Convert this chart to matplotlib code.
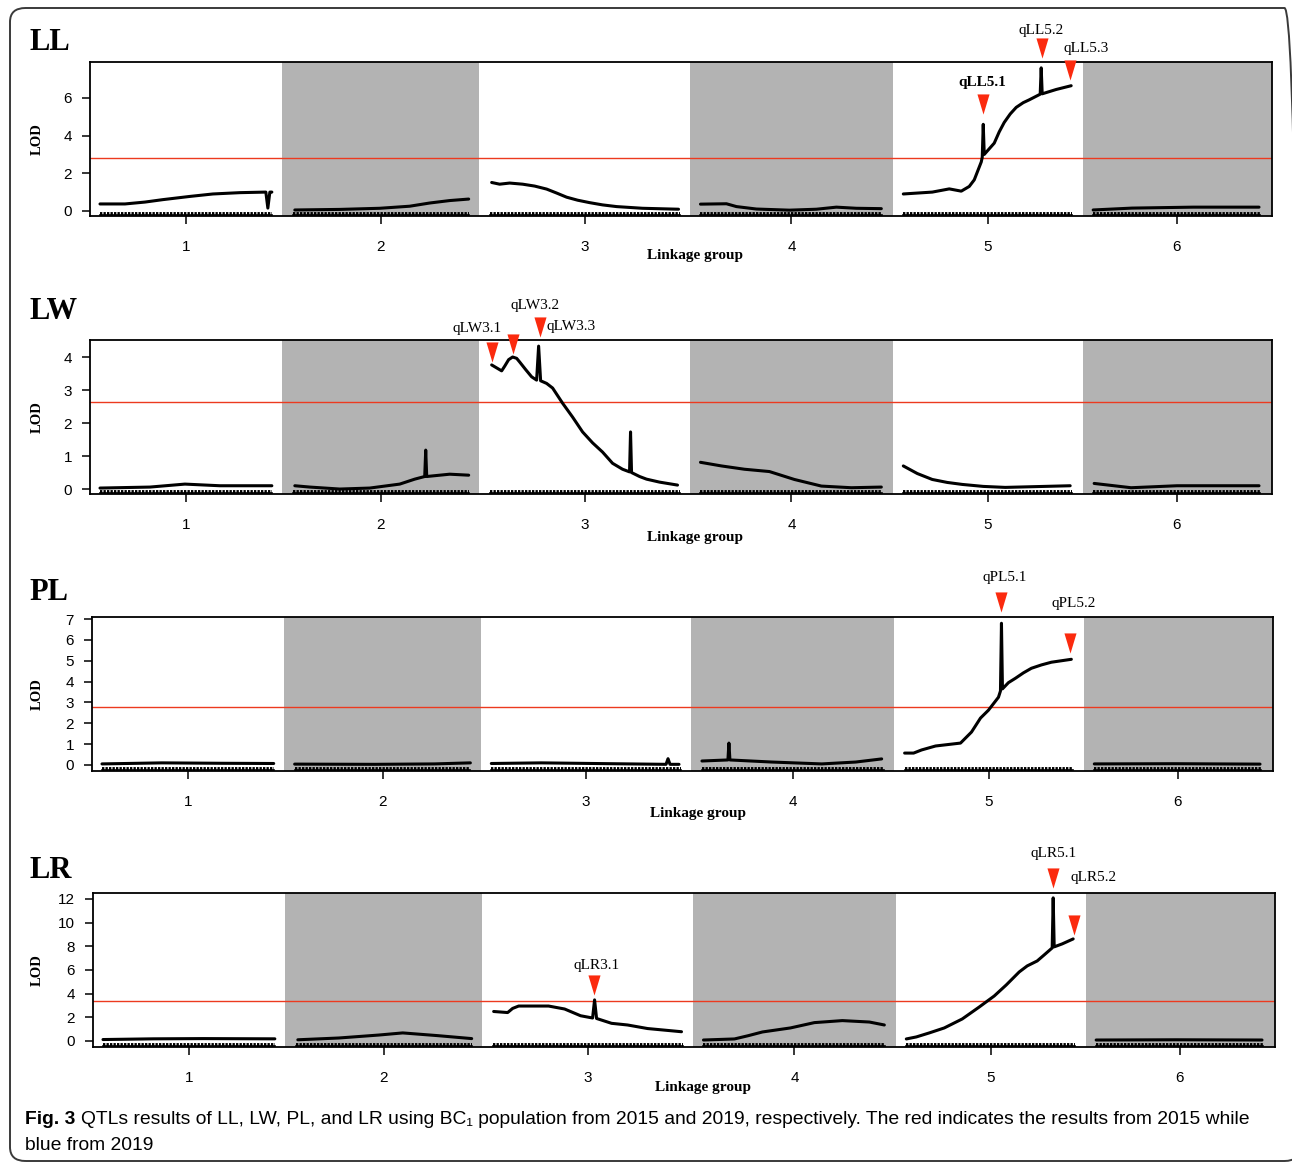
import numpy as np
import matplotlib.pyplot as plt
from matplotlib.patches import FancyBboxPatch

W, H = 1292, 1164

# linkage groups: length (cM) and gap between them
chr_len = [172, 176, 190, 182, 169, 167]
gap = 21
chr_names = ['1', '2', '3', '4', '5', '6']

# LOD profiles, one list per linkage group (position in cM, LOD)
ll_pos = [[0, 25, 45, 63, 90, 113, 140, 166, 168, 170, 172],
          [2, 47, 87, 117, 137, 157, 176],
          [2, 10, 20, 33, 45, 57, 67, 77, 88, 100, 113, 127, 153, 189],
          [0, 26, 36, 56, 89, 116, 136, 156, 181],
          [0, 29, 46, 58, 66, 71, 78, 79, 80, 81, 86, 91, 96, 101, 107, 113, 120, 126, 137, 138, 139, 153, 168],
          [0, 39, 100, 166]]
ll_lod = [[0.37, 0.37, 0.47, 0.6, 0.77, 0.9, 0.97, 1.0, 0.15, 1.0, 1.0],
          [0.05, 0.08, 0.14, 0.25, 0.42, 0.55, 0.63],
          [1.51, 1.42, 1.48, 1.42, 1.32, 1.16, 0.95, 0.73, 0.57, 0.44, 0.32, 0.23, 0.14, 0.09],
          [0.36, 0.38, 0.23, 0.1, 0.04, 0.09, 0.2, 0.14, 0.12],
          [0.9, 1.0, 1.17, 1.05, 1.3, 1.65, 2.6, 2.85, 4.6, 3.0, 3.3, 3.6, 4.2, 4.7, 5.15, 5.5, 5.75, 5.9, 6.2, 7.6, 6.22, 6.45, 6.65],
          [0.05, 0.15, 0.2, 0.2]]

lw_pos = [[0, 50, 85, 120, 172],
          [2, 17, 47, 77, 107, 122, 132, 133, 134, 157, 176],
          [2, 12, 15, 19, 23, 27, 30, 36, 42, 47, 49, 51, 57, 63, 73, 83, 93, 103, 113, 123, 133, 140, 141, 142, 150, 157, 170, 188],
          [0, 21, 44, 69, 94, 121, 151, 181],
          [0, 14, 29, 44, 59, 80, 102, 167],
          [1, 38, 84, 166]]
lw_lod = [[0.03, 0.06, 0.15, 0.1, 0.1],
          [0.1, 0.06, 0.0, 0.03, 0.15, 0.3, 0.38, 1.18, 0.38, 0.45, 0.42],
          [3.76, 3.58, 3.72, 3.92, 4.0, 3.96, 3.85, 3.62, 3.4, 3.3, 4.33, 3.28, 3.2, 3.06, 2.6, 2.18, 1.73, 1.4, 1.12, 0.78, 0.6, 0.52, 1.73, 0.5, 0.38, 0.3, 0.21, 0.12],
          [0.81, 0.7, 0.6, 0.53, 0.29, 0.09, 0.04, 0.06],
          [0.7, 0.47, 0.29, 0.2, 0.14, 0.08, 0.05, 0.1],
          [0.17, 0.04, 0.1, 0.1]]

pl_pos = [[0, 60, 120, 172],
          [0, 80, 140, 176],
          [0, 50, 120, 175, 177, 179, 188],
          [0, 26, 27, 28, 70, 120, 154, 180],
          [0, 9, 17, 31, 56, 67, 76, 84, 94, 96, 97, 98, 104, 111, 119, 127, 137, 147, 167],
          [0, 80, 166]]
pl_lod = [[0.05, 0.1, 0.08, 0.07],
          [0.04, 0.03, 0.05, 0.1],
          [0.07, 0.1, 0.06, 0.03, 0.3, 0.03, 0.03],
          [0.19, 0.24, 1.05, 0.24, 0.14, 0.05, 0.14, 0.29],
          [0.57, 0.57, 0.72, 0.91, 1.05, 1.58, 2.25, 2.63, 3.25, 3.55, 6.8, 3.65, 3.95, 4.16, 4.42, 4.64, 4.8, 4.93, 5.07],
          [0.05, 0.06, 0.04]]

lr_pos = [[0, 50, 100, 172],
          [2, 43, 83, 107, 142, 176],
          [1, 15, 20, 26, 56, 72, 88, 100, 102, 104, 119, 135, 155, 189],
          [0, 31, 45, 59, 87, 111, 139, 166, 181],
          [0, 10, 23, 38, 56, 73, 88, 100, 113, 121, 131, 138, 146, 147, 148, 156, 167],
          [0, 80, 166]]
lr_lod = [[0.12, 0.18, 0.2, 0.18],
          [0.1, 0.25, 0.5, 0.68, 0.45, 0.2],
          [2.49, 2.4, 2.75, 2.95, 2.95, 2.7, 2.13, 1.94, 3.47, 1.9, 1.49, 1.35, 1.05, 0.78],
          [0.08, 0.17, 0.45, 0.76, 1.1, 1.55, 1.72, 1.6, 1.35],
          [0.17, 0.34, 0.68, 1.1, 1.86, 2.87, 3.8, 4.73, 5.83, 6.34, 6.76, 7.27, 7.86, 12.09, 7.95, 8.2, 8.62],
          [0.08, 0.1, 0.08]]

# LOD significance thresholds
thresholds = {'LL': 2.83, 'LW': 2.64, 'PL': 2.78, 'LR': 3.38}

# QTLs: name, linkage group, position (cM), marker height (LOD), label offset (px), bold
ll_qtl = [('qLL5.1', 5, 80, 5.7, (-1, 21), True),
          ('qLL5.2', 5, 139, 8.64, (-1, 18), False),
          ('qLL5.3', 5, 167, 7.47, (16, 22), False)]
lw_qtl = [('qLW3.1', 3, 2, 4.15, (-15, 24), False),
          ('qLW3.2', 3, 23, 4.39, (22, 39), False),
          ('qLW3.3', 3, 50, 4.91, (31, 0), False)]
pl_qtl = [('qPL5.1', 5, 97, 7.8, (3, 25), False),
          ('qPL5.2', 5, 166, 5.84, (3, 40), False)]
lr_qtl = [('qLR3.1', 3, 101, 4.73, (3, 19), False),
          ('qLR5.1', 5, 147, 13.78, (0, 24), False),
          ('qLR5.2', 5, 168, 9.8, (19, 47), False)]

offsets = np.concatenate([[0], np.cumsum(np.array(chr_len[:-1]) + gap)])
x_end = offsets[-1] + chr_len[-1]

serif = ['Liberation Serif', 'DejaVu Serif']
sans = ['Liberation Sans', 'DejaVu Sans']

fig = plt.figure(figsize=(W / 100, H / 100), dpi=100)

# frame around the figure
fig.patches.append(FancyBboxPatch((10 / W, 3 / H), 1290 / W, 1153 / H,
                                  boxstyle='round,pad=0,rounding_size=0.012',
                                  transform=fig.transFigure, fill=False,
                                  ec='#3a3a3a', lw=1.4))

panels = [
    # title, pos, lod, qtls, box (left, right, top, bottom px), ylim, yticks, title y, xlabel xy
    ('LL', ll_pos, ll_lod, ll_qtl, (90, 1272, 62, 216), (-0.27, 7.91), [0, 2, 4, 6], 42, (695, 255)),
    ('LW', lw_pos, lw_lod, lw_qtl, (90, 1272, 340, 494), (-0.15, 4.515), [0, 1, 2, 3, 4], 312, (695, 538)),
    ('PL', pl_pos, pl_lod, pl_qtl, (92, 1273, 617, 771), (-0.29, 7.1), list(range(8)), 592, (698, 813)),
    ('LR', lr_pos, lr_lod, lr_qtl, (93, 1275, 893, 1047), (-0.51, 12.5), list(range(0, 13, 2)), 870, (703, 1087)),
]

for name, pos, lod, qtls, (l, r, t, b), ylim, yticks, ty, xl in panels:
    ax = fig.add_axes([l / W, 1 - b / H, (r - l) / W, (b - t) / H])
    ax.set_xlim(-10, x_end + 12)
    ax.set_ylim(*ylim)

    # alternating grey bands for even linkage groups
    for i in range(1, 6, 2):
        lo = offsets[i] - gap / 2
        hi = offsets[i] + chr_len[i] + gap / 2 if i < 5 else x_end + 12
        ax.axvspan(lo, hi, color='#b3b3b3', lw=0, zorder=0)

    ax.axhline(thresholds[name], color='#ec3a1f', lw=1.0, zorder=2)

    xt = ax.get_xaxis_transform()
    for i in range(6):
        xs = offsets[i] + np.array(pos[i])
        ax.plot(xs, lod[i], color='black', lw=2.2, solid_joinstyle='round',
                solid_capstyle='round', zorder=3)
        # marker rug
        ax.plot([offsets[i], offsets[i] + chr_len[i]], [0.014, 0.014], transform=xt,
                color='black', lw=2.8, dashes=(0.6, 0.3), zorder=3)
        ax.plot([offsets[i], offsets[i] + chr_len[i]], [0.007, 0.007], transform=xt,
                color='black', lw=1.2, zorder=3)

    for qname, c, p, h, (dx, dy), bold in qtls:
        x = offsets[c - 1] + p
        ax.plot(x, h, marker=[(-0.3, 0.5), (0.3, 0.5), (0, -0.5)], ms=14.5,
                color='#fb2a0e', mec='none', clip_on=False, zorder=5)
        ax.annotate(qname, (x, h), xytext=(dx, dy), textcoords='offset pixels',
                    ha='center', va='center', fontsize=11, family=serif,
                    fontweight='bold' if bold else 'normal', annotation_clip=False)

    ax.set_xticks(offsets + np.array(chr_len) / 2)
    ax.set_xticklabels(chr_names)
    ax.set_yticks(yticks)
    ax.tick_params(direction='out', length=6, width=1.1, labelsize=11, colors='black')
    ax.tick_params(axis='x', pad=11)
    ax.tick_params(axis='y', pad=7)
    for lab in ax.get_xticklabels() + ax.get_yticklabels():
        lab.set_family(sans)
    for s in ax.spines.values():
        s.set_linewidth(1.3)

    fig.text(29 / W, 1 - ty / H, name, fontsize=22, fontweight='bold', family=serif,
             ha='left', va='center')
    fig.text(37 / W, 1 - (t + b) / 2 / H, 'LOD', fontsize=10.5, fontweight='bold',
             family=serif, rotation=90, ha='center', va='center')
    fig.text(xl[0] / W, 1 - xl[1] / H, 'Linkage group', fontsize=11, fontweight='bold',
             family=serif, ha='center', va='center')

# caption
fig.text(25 / W, 1 - 1120 / H, 'Fig. 3', fontsize=13.9, fontweight='bold', family=sans,
         ha='left', va='center')
fig.text(81 / W, 1 - 1120 / H,
         'QTLs results of LL, LW, PL, and LR using BC\u2081 population from 2015 and 2019, '
         'respectively. The red indicates the results from 2015 while',
         fontsize=13.9, family=sans, ha='left', va='center')
fig.text(25 / W, 1 - 1146 / H, 'blue from 2019', fontsize=13.9, family=sans,
         ha='left', va='center')

fig.savefig('out.png', dpi=100)
